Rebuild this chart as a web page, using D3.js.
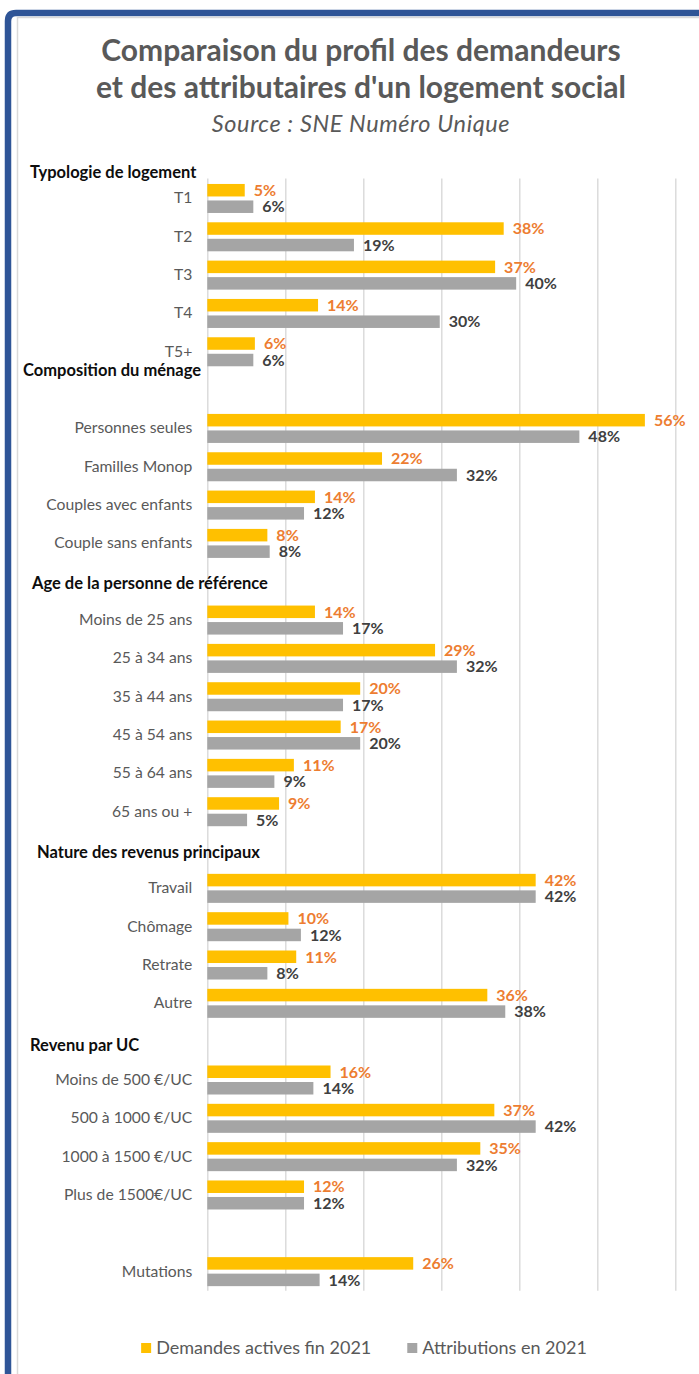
<!DOCTYPE html>
<html>
<head>
<meta charset="utf-8">
<script src="https://cdn.jsdelivr.net/npm/d3@7"></script>
<style>
  html, body { margin: 0; padding: 0; background: #ffffff; }
  svg { display: block; }
</style>
</head>
<body>
<svg id="chart" width="699" height="1374"></svg>
<script>
// ---------- DATA ----------
const categories = [
  "T1", "T2", "T3", "T4", "T5+", "",
  "Personnes seules", "Familles Monop", "Couples avec enfants", "Couple sans enfants", "",
  "Moins de 25 ans", "25 à 34 ans", "35 à 44 ans", "45 à 54 ans", "55 à 64 ans", "65 ans ou +", "",
  "Travail", "Chômage", "Retrate", "Autre", "",
  "Moins de 500 €/UC", "500 à 1000 €/UC", "1000 à 1500 €/UC", "Plus de 1500€/UC", "",
  "Mutations"
];
const demandes = [
  4.8, 38.0, 36.9, 14.2, 6.1, null,
  56.1, 22.4, 13.8, 7.7, null,
  13.8, 29.2, 19.6, 17.1, 11.1, 9.2, null,
  42.1, 10.4, 11.4, 35.9, null,
  15.8, 36.8, 35.0, 12.4, null,
  26.4
];
const attributions = [
  5.9, 18.8, 39.6, 29.8, 5.9, null,
  47.7, 32.0, 12.4, 8.0, null,
  17.4, 32.0, 17.4, 19.6, 8.6, 5.1, null,
  42.1, 12.0, 7.7, 38.2, null,
  13.6, 42.1, 32.0, 12.4, null,
  14.4
];
const sectionTitles = [
  "Typologie de logement",
  "Composition du ménage",
  "Age de la personne de référence",
  "Nature des revenus principaux",
  "Revenu par UC"
];
const seriesNames = ["Demandes actives fin 2021", "Attributions en 2021"];
const xTicks = [0, 10, 20, 30, 40, 50, 60];
const titleLines = [
  "Comparaison du profil des demandeurs",
  "et des attributaires d'un logement social"
];
const subtitle = "Source : SNE Numéro Unique";

// ---------- LAYOUT / STYLE ----------
const FONT = "Lato, 'Open Sans', sans-serif";
const COL_Y = "#FFC000", COL_G = "#A5A5A5";
const LAB_Y = "#ED7D31", LAB_G = "#404040";
const TXT = "#595959";
const headingLayout = [
  { x: 30, y: 172 }, { x: 23, y: 370.5 }, { x: 32, y: 583 }, { x: 37, y: 852 }, { x: 30, y: 1045 }
];

const svg = d3.select("#chart");

// frame
svg.append("path")
  .attr("d", "M8,1380 L8,21 Q8,13 16,13 L710,13")
  .attr("fill", "none").attr("stroke", "#2F5597").attr("stroke-width", 6.5);
svg.append("path")
  .attr("d", "M17.5,1380 L17.5,17.5 L710,17.5")
  .attr("fill", "none").attr("stroke", "#D9D9D9").attr("stroke-width", 1.5);

// titles
const cx = 361;
svg.selectAll("text.title").data(titleLines).join("text")
  .attr("class", "title")
  .attr("x", cx).attr("y", (d, i) => 61 + i * 37)
  .attr("text-anchor", "middle")
  .attr("font-family", FONT).attr("font-weight", 700).attr("font-size", 30)
  .attr("fill", TXT).text(d => d);
svg.append("text")
  .attr("x", cx).attr("y", 132).attr("text-anchor", "middle")
  .attr("font-family", FONT).attr("font-style", "italic").attr("font-size", 23.5)
  .attr("letter-spacing", 0.6)
  .attr("fill", TXT).text(subtitle);

// scales
const x = d3.scaleLinear().domain([0, 60]).range([207.3, 675.3]);
const y = d3.scaleBand().domain(d3.range(categories.length))
  .range([179.3, 1290.8]).paddingInner(0.243).paddingOuter(0.1215);
const ySub = d3.scaleBand().domain([0, 1]).range([0, y.bandwidth()]).paddingInner(0.242);

// gridlines via axis
const gx = svg.append("g").attr("transform", `translate(0,1290.8)`)
  .call(d3.axisBottom(x).tickValues(xTicks).tickSize(-(1290.8 - 178.5)).tickFormat(""));
gx.select(".domain").remove();
gx.selectAll(".tick line").attr("stroke", "#D9D9D9").attr("stroke-width", 1.4);

// category axis
const gy = svg.append("g").attr("transform", `translate(${x(0)},0)`)
  .call(d3.axisLeft(y).tickSize(0).tickPadding(15).tickFormat(i => categories[i]));
gy.select(".domain").remove();
gy.selectAll(".tick text")
  .attr("font-family", FONT).attr("font-size", 15.7).attr("fill", TXT);

// bars
const series = [
  { values: demandes, color: COL_Y, label: LAB_Y },
  { values: attributions, color: COL_G, label: LAB_G }
];
series.forEach((s, si) => {
  const rows = s.values.map((v, i) => ({ v, i })).filter(d => d.v !== null);
  const g = svg.append("g");
  g.selectAll("rect").data(rows).join("rect")
    .attr("x", x(0))
    .attr("y", d => y(d.i) + ySub(si))
    .attr("width", d => x(d.v) - x(0))
    .attr("height", ySub.bandwidth())
    .attr("fill", s.color);
  g.selectAll("text").data(rows).join("text")
    .attr("x", d => x(d.v) + 9)
    .attr("y", d => y(d.i) + ySub(si) + ySub.bandwidth() / 2)
    .attr("dy", "0.36em")
    .attr("font-family", FONT).attr("font-weight", 700).attr("font-size", 16)
    .attr("fill", s.label)
    .text(d => Math.round(d.v) + "%");
});

// section headings
svg.selectAll("text.heading").data(sectionTitles).join("text")
  .attr("class", "heading")
  .attr("x", (d, i) => headingLayout[i].x)
  .attr("y", (d, i) => headingLayout[i].y)
  .attr("dy", "0.36em")
  .attr("font-family", FONT).attr("font-weight", 700).attr("font-size", 16.5)
  .attr("fill", "#0D0D0D").text(d => d);

// legend
const legend = svg.append("g");
const items = legend.selectAll("g").data(seriesNames).join("g");
items.append("rect").attr("width", 10).attr("height", 10).attr("y", -5)
  .attr("fill", (d, i) => i === 0 ? COL_Y : COL_G);
items.append("text").attr("x", 15).attr("dy", "0.36em")
  .attr("font-family", FONT).attr("font-size", 18).attr("fill", TXT).text(d => d);
let offs = 0;
const widths = [];
items.each(function () { widths.push(this.getBBox().width); });
items.attr("transform", (d, i) => {
  const t = `translate(${offs},0)`;
  offs += widths[i] + 36;
  return t;
});
const total = offs - 36;
legend.attr("transform", `translate(${364 - total / 2},1348)`);
</script>
</body>
</html>
